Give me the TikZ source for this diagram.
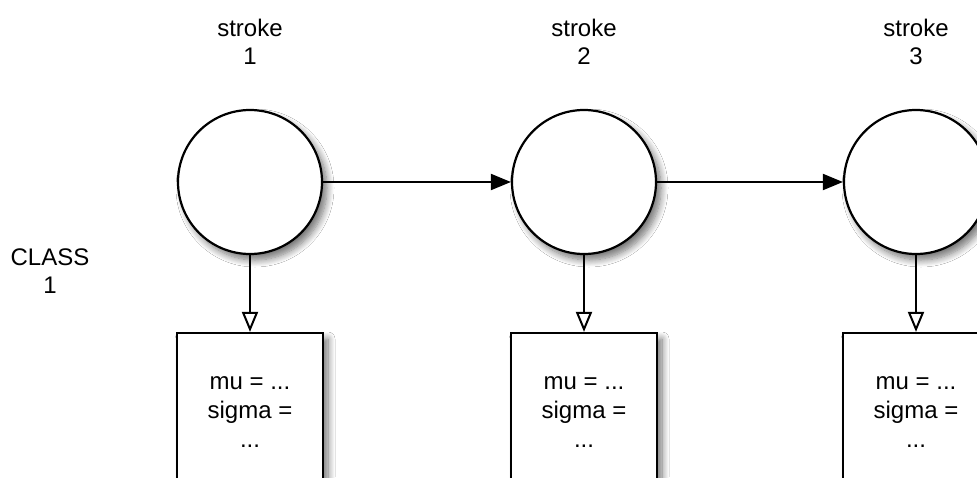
\documentclass[tikz,border=0pt]{standalone}
\usepackage{fontspec}
\setmainfont{Liberation Sans}
\usetikzlibrary{arrows.meta,shadows.blur}

\tikzset{
  softshadow/.style={blur shadow={shadow xshift=5pt, shadow yshift=-6pt,
      shadow blur radius=7pt, shadow blur steps=10, shadow opacity=55}},
  statecirc/.style={circle, draw=black, line width=2.2pt, fill=white,
      minimum size=144pt, inner sep=0pt, softshadow},
  parambox/.style={rectangle, draw=black, line width=2.2pt, fill=white,
      minimum width=146pt, minimum height=158pt, inner sep=0pt, align=center,
      font=\fontsize{24}{29}\selectfont, softshadow},
  lbl/.style={align=center, font=\fontsize{24}{28}\selectfont, inner sep=0pt},
  chain/.style={line width=2pt, -{Triangle[length=20pt, width=16pt]}},
  emit/.style={line width=2pt, -{Triangle[open, length=20pt, width=16pt, fill=white]}},
}

\begin{document}
\begin{tikzpicture}[x=1pt, y=-1pt]
  \clip (0,0) rectangle (977,477);
  \fill[white] (0,0) rectangle (977,477);

  % column headings
  \node[lbl] (h1) at (250,42) {stroke\\1};
  \node[lbl] (h2) at (584,42) {stroke\\2};
  \node[lbl] (h3) at (916,42) {stroke\\3};

  % row heading
  \node[lbl] (c1) at (50,271) {CLASS\\1};

  % hidden states
  \node[statecirc] (s1) at (250,182) {};
  \node[statecirc] (s2) at (584,182) {};
  \node[statecirc] (s3) at (916,182) {};

  % emission parameter boxes
  \node[parambox] (b1) at (250,412) {mu = ...\\sigma =\\...};
  \node[parambox] (b2) at (584,412) {mu = ...\\sigma =\\...};
  \node[parambox] (b3) at (916,412) {mu = ...\\sigma =\\...};

  % transitions between states
  \draw[chain] (s1.east) -- (s2.west);
  \draw[chain] (s2.east) -- (s3.west);

  % emissions
  \draw[emit] (s1.south) -- (b1.north);
  \draw[emit] (s2.south) -- (b2.north);
  \draw[emit] (s3.south) -- (b3.north);
\end{tikzpicture}
\end{document}
